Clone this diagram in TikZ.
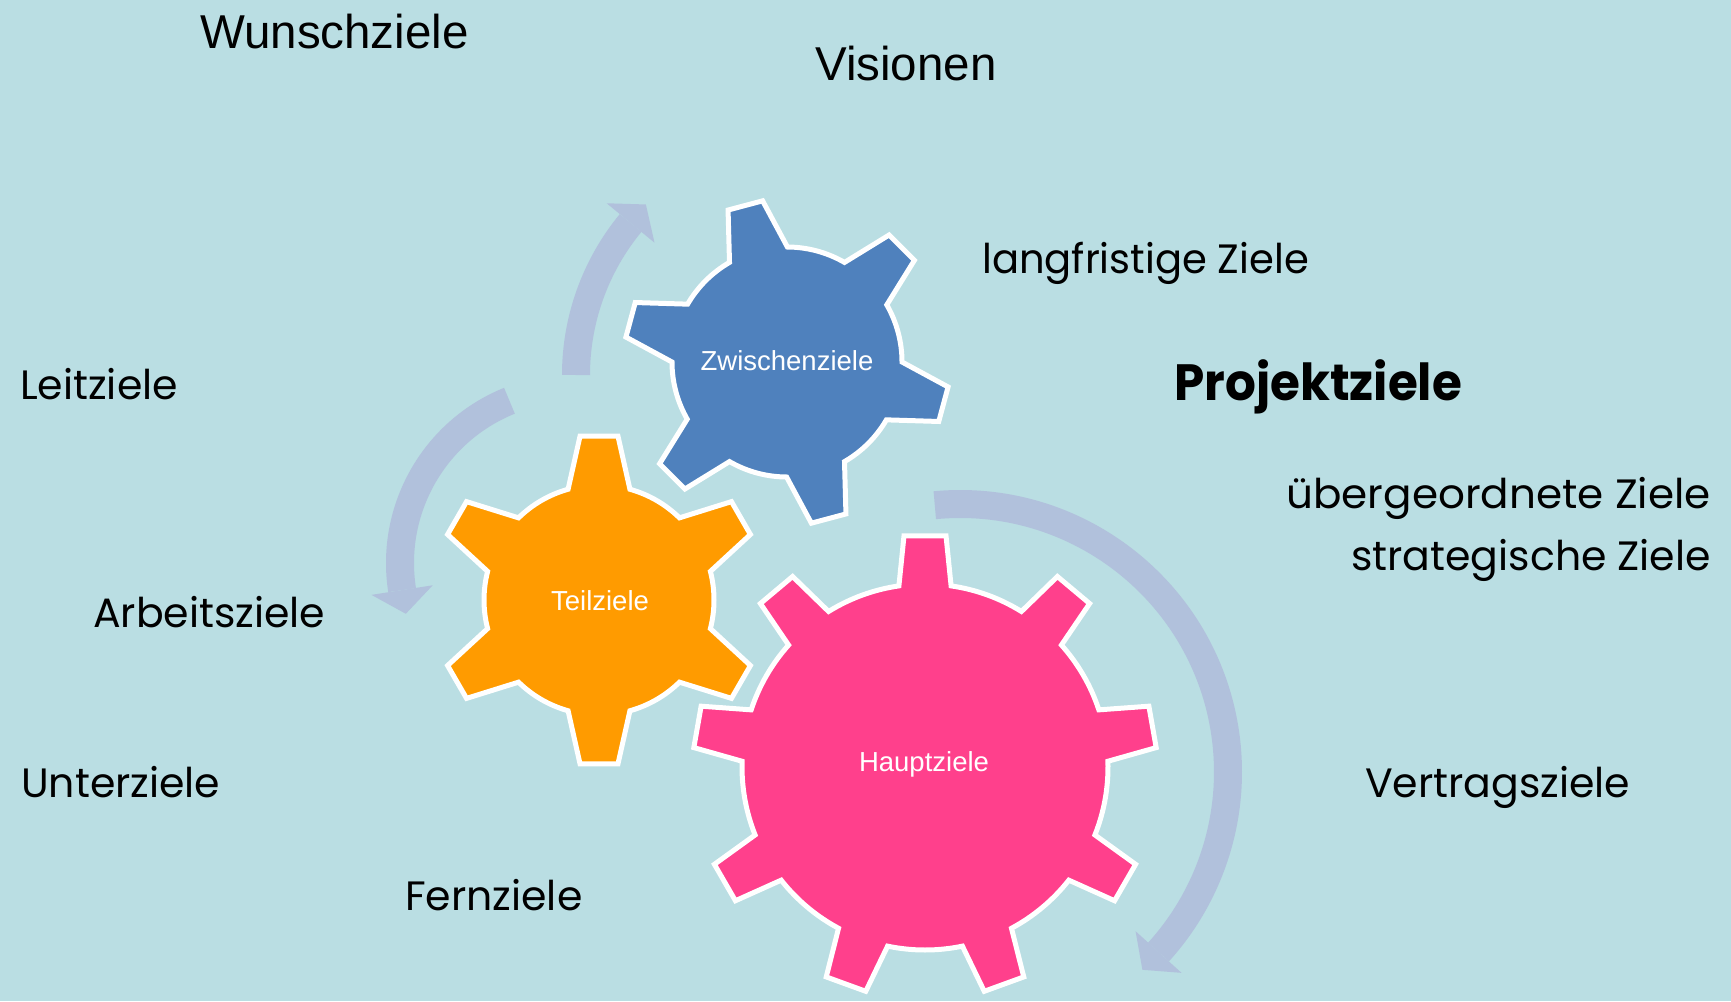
\documentclass[tikz,border=0pt]{standalone}
\usepackage{fontspec}
\setmainfont{Liberation Sans}
\newfontfamily\gothic{Poppins}
\newfontfamily\gothicbold{Poppins Bold}
\usetikzlibrary{calc}
\definecolor{bgcol}{RGB}{186,222,227}
\definecolor{arrowcol}{RGB}{177,193,220}
\definecolor{gearblue}{RGB}{79,129,189}
\definecolor{gearorange}{RGB}{255,155,0}
\definecolor{gearpink}{RGB}{255,64,140}
\newcommand\gearshape[8]{%
  \pgfmathsetmacro\gstep{360/#2}%
  \draw[#8] ($(#1)+({#3-#6}:#4)$)
    \foreach \k in {1,...,#2}{
      -- ($(#1)+({#3+(\k-1)*\gstep-#7}:#5)$)
      -- ($(#1)+({#3+(\k-1)*\gstep+#7}:#5)$)
      -- ($(#1)+({#3+(\k-1)*\gstep+#6}:#4)$)
      arc[start angle={#3+(\k-1)*\gstep+#6}, end angle={#3+\k*\gstep-#6}, radius=#4]
    } -- cycle;
}
\newcommand\bentarrow[5]{%
  \draw[arrowshaft] ($(#1)+({#3}:{#2})$) arc[start angle=#3, end angle=#4, radius=#2];
  \fill[arrowcol] ($(#1)+({#4}:{#2+31})$) -- ($(#1)+({#4}:{#2-31})$)
    -- ($(#1)+({#4}:{#2})+({#4#5}:24)$) -- cycle;
}
\begin{document}
\begin{tikzpicture}[x=1pt,y=1pt,
  arrowshaft/.style={draw=arrowcol,line width=28pt},
  gearline/.style={draw=white,line width=5pt,line join=miter},
  geartext/.style={font=\fontsize{27.5}{30}\selectfont,text=white,anchor=base,inner sep=0pt},
  arialtext/.style={font=\fontsize{47.5}{52}\selectfont,anchor=base west,inner sep=0pt},
  gothictext/.style={font=\gothic\fontsize{41}{48}\selectfont,inner sep=0pt},
  boldtext/.style={font=\gothicbold\fontsize{51}{60}\selectfont,anchor=base west,inner sep=0pt}]
\fill[bgcol] (0,0) rectangle (1731,-1001);
\useasboundingbox (0,0) rectangle (1731,-1001);
% centres
\coordinate (cZ) at (787,-362);
\coordinate (cT) at (599,-600);
\coordinate (cH) at (925,-767);
\coordinate (a1) at (815,-375);
\coordinate (a2) at (575,-563);
\coordinate (a3) at (960,-772);
% arrows
\bentarrow{a1}{239}{180}{140.5}{-90}
\bentarrow{a2}{175}{112}{188.9}{+90}
\bentarrow{a3}{268}{95.4}{-42.2}{-90}
% gears
\gearshape{cZ}{6}{104.9}{115}{163}{15.1}{6.3}{gearline,fill=gearblue}
\gearshape{cT}{6}{90}{115}{165}{15.6}{6.6}{gearline,fill=gearorange}
\gearshape{cH}{9}{90}{183}{232}{8.2}{5.2}{gearline,fill=gearpink}
\node[geartext] (tZ) at (787,-370) {Zwischenziele};
\node[geartext] (tT) at (600,-610) {Teilziele};
\node[geartext] (tH) at (924,-771) {Hauptziele};
% labels
\node[arialtext] (wunsch) at (200,-48) {Wunschziele};
\node[arialtext] (vision) at (815,-80) {Visionen};
\node[gothictext,anchor=base west] (lang) at (982,-273) {\scalebox{0.977}[1]{langfristige Ziele}};
\node[boldtext] (proj) at (1174,-400) {\scalebox{0.95}[1]{Projektziele}};
\node[gothictext,anchor=base west] (leit) at (20,-399) {Leitziele};
\node[gothictext,anchor=base east] (ueber) at (1711,-508) {\scalebox{1.027}[1]{übergeordnete Ziele}};
\node[gothictext,anchor=base east] (strat) at (1711,-570) {strategische Ziele};
\node[gothictext,anchor=base west] (arbeit) at (93,-627) {Arbeitsziele};
\node[gothictext,anchor=base west] (unter) at (21,-797) {Unterziele};
\node[gothictext,anchor=base west] (vertrag) at (1365,-797) {Vertragsziele};
\node[gothictext,anchor=base west] (fern) at (405,-910) {Fernziele};
\end{tikzpicture}
\end{document}
